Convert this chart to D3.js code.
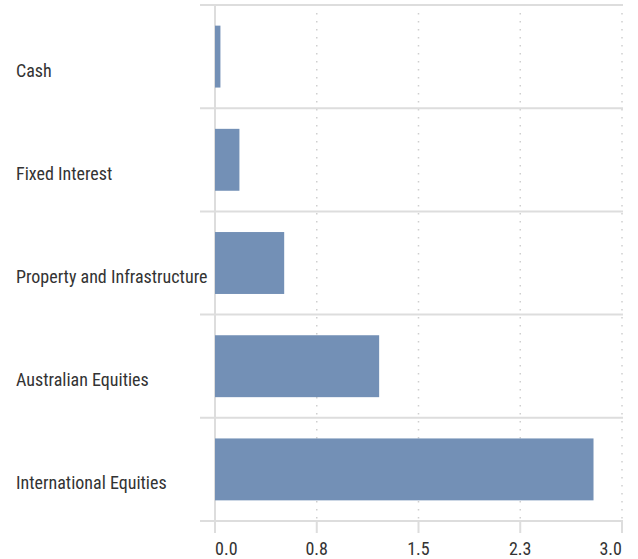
<!DOCTYPE html>
<html><head><meta charset="utf-8">
<script src="https://cdn.jsdelivr.net/npm/d3@7"></script>
<style>
body{margin:0;background:#fff;}
text{font-family:"Roboto Condensed","Liberation Sans Narrow","Open Sans Condensed","DejaVu Sans Condensed",sans-serif;font-stretch:condensed;font-weight:400;fill:#333;}
</style></head><body>
<svg id="c" width="638" height="559"></svg>
<script>
const categories = ["Cash","Fixed Interest","Property and Infrastructure","Australian Equities","International Equities"];
const values = [0.04, 0.18, 0.51, 1.21, 2.79];
const tickValues = [0, 0.75, 1.5, 2.25, 3.0];
const tickLabels = ["0.0","0.8","1.5","2.3","3.0"];

(function(){
const svg = d3.select("#c");
const mLeft = 215, mRight = 622, mTop = 5, mBottom = 521;
const x = d3.scaleLinear().domain([0,3]).range([mLeft,mRight]);
const y = d3.scaleBand().domain(categories).range([mTop,mBottom]).paddingInner(0.4).paddingOuter(0.2);

// vertical dotted grid
svg.append("g").selectAll("line").data(tickValues.slice(1)).join("line")
  .attr("x1",d=>x(d)).attr("x2",d=>x(d)).attr("y1",mTop+8).attr("y2",mBottom)
  .attr("stroke","#cfcfcf").attr("stroke-width",1.5).attr("stroke-dasharray","1.5,6.5");

// horizontal row separators
const bounds = d3.range(categories.length+1).map(i=>mTop + i*(mBottom-mTop)/categories.length);
svg.append("g").selectAll("line").data(bounds).join("line")
  .attr("x1",200).attr("x2",mRight+1).attr("y1",d=>d).attr("y2",d=>d)
  .attr("stroke","#dddddd").attr("stroke-width",2);

// y axis line
svg.append("line").attr("x1",mLeft).attr("x2",mLeft).attr("y1",mTop).attr("y2",mBottom+12)
  .attr("stroke","#dddddd").attr("stroke-width",2);

// bottom ticks
svg.append("g").selectAll("line").data(tickValues.slice(1)).join("line")
  .attr("x1",d=>x(d)).attr("x2",d=>x(d)).attr("y1",mBottom).attr("y2",mBottom+12)
  .attr("stroke","#dddddd").attr("stroke-width",2);

// bars
svg.append("g").selectAll("rect").data(values).join("rect")
  .attr("x",x(0)).attr("y",(d,i)=>y(categories[i]))
  .attr("width",d=>x(d)-x(0)).attr("height",y.bandwidth())
  .attr("fill","#7390b6");

// category labels
svg.append("g").selectAll("text").data(categories).join("text")
  .attr("x",16).attr("y",d=>y(d)+y.bandwidth()/2+20)
  .attr("font-size",18).text(d=>d);

// tick labels
const n = tickValues.length;
svg.append("g").selectAll("text").data(tickValues).join("text")
  .attr("x",d=>x(d)).attr("y",mBottom+34)
  .attr("text-anchor",(d,i)=> i===0 ? "start" : (i===n-1 ? "end" : "middle"))
  .attr("font-size",18).text((d,i)=>tickLabels[i]);
})();
</script></body></html>
